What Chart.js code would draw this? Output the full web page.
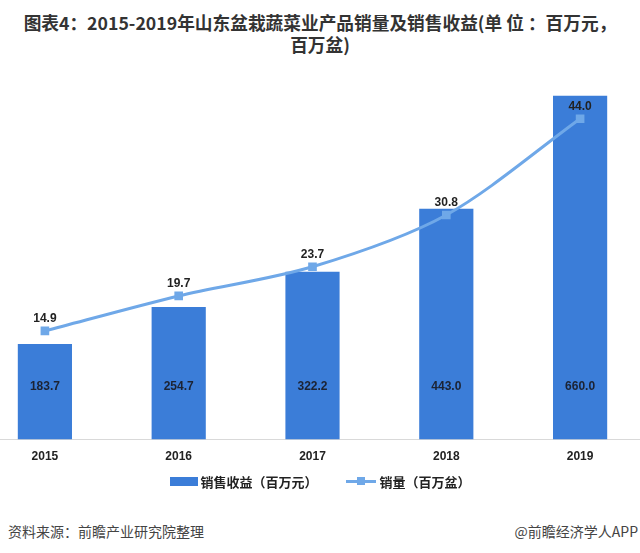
<!DOCTYPE html>
<html>
<head>
<meta charset="utf-8">
<script src="https://cdn.jsdelivr.net/npm/chart.js@4.4.1/dist/chart.umd.min.js"></script>
<style>
  body { margin: 0; background: #fff; font-family: "Noto Sans CJK SC", sans-serif; }
  #wrap { position: relative; width: 640px; height: 553px; overflow: hidden; }
  #title { position: absolute; top: 11px; left: 0; width: 640px; text-align: center;
           font-size: 17.7px; font-weight: bold; color: #333; line-height: 22px; }
  #box { position: absolute; left: -22px; top: 60px; width: 669px; height: 414px; }
  #legend { position: absolute; top: 470px; left: 0; width: 640px; text-align: center;
            font-size: 13px; font-weight: bold; color: #222; }
  #legend span { display: inline-block; vertical-align: middle; }
  .src { position: absolute; top: 521px; font-size: 14px; color: #444; }
</style>
</head>
<body>
<div id="wrap">
  <div id="title">图表4：2015-2019年山东盆栽蔬菜业产品销量及销售收益(单 位 ：百万元，<br>百万盆)</div>
  <div id="box"><canvas id="chart"></canvas></div>
  <div id="legend">
    <span style="width:28px;height:9px;background:#3b7dd8;"></span>
    <span style="margin-right:26px;">销售收益（百万元）</span>
    <span style="position:relative;width:30px;height:9px;">
      <span style="position:absolute;left:0;top:3px;width:30px;height:3px;background:#6fa8e8;"></span>
      <span style="position:absolute;left:11px;top:0;width:8px;height:8px;background:#6fa8e8;"></span>
    </span>
    <span>销量（百万盆）</span>
  </div>
  <div class="src" style="left:8px;">资料来源：前瞻产业研究院整理</div>
  <div class="src" style="right:2px;">@前瞻经济学人APP</div>
</div>
<script>
const years = ['2015', '2016', '2017', '2018', '2019'];
const revenue = [183.7, 254.7, 322.2, 443.0, 660.0];
const volume = [14.9, 19.7, 23.7, 30.8, 44.0];

// draws the value labels (bars: fixed height near the bottom, line: above points)
const valueLabels = {
  id: 'valueLabels',
  afterDatasetsDraw(chart) {
    const ctx = chart.ctx;
    ctx.save();
    ctx.font = 'bold 12px "Liberation Sans", Arial, sans-serif';
    ctx.textAlign = 'center';
    ctx.textBaseline = 'middle';
    chart.getDatasetMeta(0).data.forEach((bar, i) => {
      ctx.fillStyle = '#1c2333';
      ctx.fillText(revenue[i].toFixed(1), bar.x, bar.base - 53);
    });
    chart.getDatasetMeta(1).data.forEach((pt, i) => {
      ctx.fillStyle = '#222';
      ctx.fillText(volume[i].toFixed(1), pt.x, pt.y - 12);
    });
    ctx.restore();
  }
};

new Chart(document.getElementById('chart'), {
  data: {
    labels: years,
    datasets: [{
      type: 'bar',
      label: '销售收益（百万元）',
      data: revenue,
      backgroundColor: '#3b7dd8',
      barPercentage: 0.81,
      categoryPercentage: 0.5,
      yAxisID: 'y',
      order: 2
    }, {
      type: 'line',
      label: '销量（百万盆）',
      data: volume,
      borderColor: '#6fa8e8',
      backgroundColor: '#6fa8e8',
      borderWidth: 3,
      pointStyle: 'rect',
      pointRadius: 4,
      tension: 0.3,
      yAxisID: 'y1',
      order: 1
    }]
  },
  options: {
    responsive: true,
    maintainAspectRatio: false,
    animation: false,
    layout: { autoPadding: false, padding: { top: 15 } },
    plugins: { legend: { display: false }, tooltip: { enabled: false } },
    scales: {
      x: {
        grid: { display: false, drawTicks: false },
        border: { color: '#d9d9d9' },
        ticks: { color: '#222', padding: 10, font: { size: 12, weight: 'bold', family: '"Liberation Sans", Arial, sans-serif' } }
      },
      y: { display: false, min: 0, max: 700 },
      y1: { display: false, min: 0, max: 50, position: 'right' }
    }
  },
  plugins: [valueLabels]
});
</script>
</body>
</html>
